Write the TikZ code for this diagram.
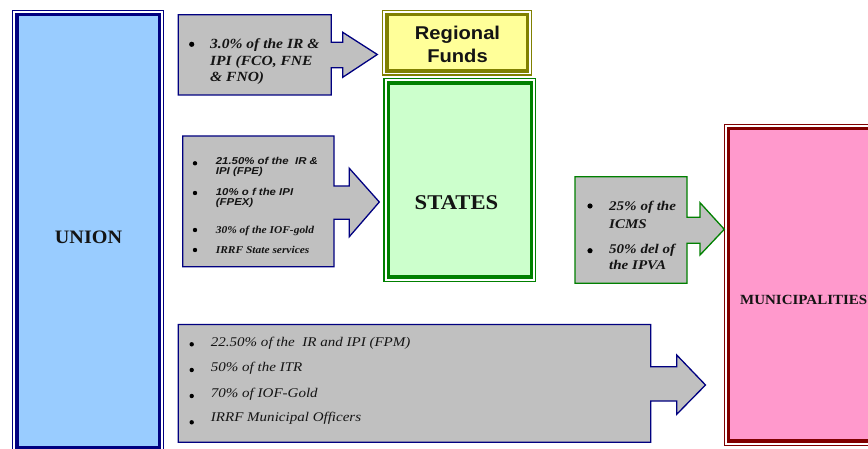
\documentclass[tikz,border=0pt]{standalone}
\usepackage{fontspec}
\usepackage{graphicx}
\setmainfont{Liberation Serif}
\newfontfamily\arialf{Liberation Sans}
\definecolor{navyc}{HTML}{000080}
\definecolor{ubluec}{HTML}{99CCFF}
\definecolor{olivec}{HTML}{808000}
\definecolor{yelc}{HTML}{FFFF99}
\definecolor{grnc}{HTML}{008000}
\definecolor{lgrnc}{HTML}{CCFFCC}
\definecolor{dredc}{HTML}{800000}
\definecolor{pinkc}{HTML}{FF99CC}
\definecolor{grayc}{HTML}{C0C0C0}
\newcommand\wide[2][1.12]{\scalebox{#1}[1]{#2}}
\begin{document}
\begin{tikzpicture}[x=1pt,y=-1pt,
  thinframe/.style={line width=1.2pt},
  thickframe/.style={line width=3.6pt},
  arrowshape/.style={fill=grayc, line width=1.3pt, line join=miter},
  txt/.style={anchor=base west, inner sep=0pt, text=black!92},
  title/.style={anchor=base, inner sep=0pt, text=black!92},
  bul/.style={circle, fill=black, inner sep=0pt, minimum size=5.2pt},
  sbul/.style={circle, fill=black, inner sep=0pt, minimum size=4.4pt}]
\useasboundingbox (0,0) rectangle (868,449);
\fill[white] (0,0) rectangle (868,449);

% UNION box
\draw[navyc, thinframe] (12.5,10.5) rectangle (163.5,455);
\draw[navyc, thickframe, fill=ubluec] (16.7,14.5) rectangle (159.3,447.5);
\node[title, font=\fontsize{19}{21}\selectfont\bfseries] (union) at (88.5,243.3) {\wide[1.06]{UNION}};

% Regional Funds box
\draw[olivec, thinframe] (382.7,10.7) rectangle (531.3,75);
\draw[olivec, thickframe, fill=yelc] (386.7,14.7) rectangle (527.3,71);
\node[title, font=\arialf\fontsize{18.5}{20}\selectfont\bfseries] (regional) at (457.5,39.3) {\wide[1.09]{Regional}};
\node[title, font=\arialf\fontsize{18.5}{20}\selectfont\bfseries] (funds) at (457.5,62.7) {\wide[1.09]{Funds}};

% STATES box
\draw[grnc, thinframe] (384,78.3) rectangle (535.7,281.7);
\draw[grnc, thickframe, fill=lgrnc] (388.5,82.8) rectangle (531.5,277.2);
\node[title, font=\fontsize{21}{23}\selectfont\bfseries] (states) at (456.5,210) {\wide[1.08]{STATES}};

% MUNICIPALITIES box
\draw[dredc, thinframe] (724.3,124.3) rectangle (890,445.5);
\draw[dredc, thickframe, fill=pinkc] (728.5,128.5) rectangle (885,441.2);
\node[txt, font=\fontsize{14}{15}\selectfont\bfseries] (muni) at (740,304.3) {\wide[1.07]{MUNICIPALITIES}};

% Arrow 1 (to Regional Funds)
\draw[navyc, arrowshape] (178.3,14.7) -- (331.3,14.7) -- (331.3,42.3) -- (342.7,42.3) -- (342.7,32.3)
  -- (377.3,54.5) -- (342.7,77.3) -- (342.7,67.7) -- (331.3,67.7) -- (331.3,95) -- (178.3,95) -- cycle;
\node[bul] (b1a) at (191.7,44.3) {};
\node[txt, font=\fontsize{14}{15}\selectfont\bfseries\itshape] (a1l1) at (210,49) {\wide[1.11]{3.0\% of the IR \&}};
\node[txt, font=\fontsize{14}{15}\selectfont\bfseries\itshape] (a1l2) at (210,66) {\wide[1.11]{IPI (FCO, FNE}};
\node[txt, font=\fontsize{14}{15}\selectfont\bfseries\itshape] (a1l3) at (210,81.7) {\wide[1.11]{\& FNO)}};

% Arrow 2 (to STATES)
\draw[navyc, arrowshape] (182.7,136) -- (334,136) -- (334,186) -- (349.3,186) -- (349.3,168.3)
  -- (379.3,202) -- (349.3,236.7) -- (349.3,219.3) -- (334,219.3) -- (334,266.7) -- (182.7,266.7) -- cycle;
\node[sbul] (b2a) at (195,163.3) {};
\node[txt, font=\arialf\fontsize{10}{11}\selectfont\bfseries\itshape] (a2l1) at (215.7,165) {\wide[1.14]{21.50\% of the\ \ IR \&}};
\node[txt, font=\arialf\fontsize{10}{11}\selectfont\bfseries\itshape] (a2l2) at (215.7,174.8) {\wide[1.14]{IPI (FPE)}};
\node[sbul] (b2b) at (195,193) {};
\node[txt, font=\arialf\fontsize{10}{11}\selectfont\bfseries\itshape] (a2l3) at (215.7,196) {\wide[1.14]{10\% o f the IPI}};
\node[txt, font=\arialf\fontsize{10}{11}\selectfont\bfseries\itshape] (a2l4) at (215.7,206) {\wide[1.14]{(FPEX)}};
\node[sbul] (b2c) at (195,230) {};
\node[txt, font=\fontsize{10.5}{12}\selectfont\bfseries\itshape] (a2l5) at (215.7,234) {\wide[1.09]{30\% of the IOF-gold}};
\node[sbul] (b2d) at (195,250) {};
\node[txt, font=\fontsize{10.5}{12}\selectfont\bfseries\itshape] (a2l6) at (215.7,254) {\wide[1.09]{IRRF State services}};

% Arrow 3 (STATES to MUNICIPALITIES)
\draw[grnc, arrowshape] (575,176.7) -- (687,176.7) -- (687,217.3) -- (700,217.3) -- (700,202.7)
  -- (724.3,229.3) -- (700,255) -- (700,243.3) -- (687,243.3) -- (687,283.3) -- (575,283.3) -- cycle;
\node[bul] (b3a) at (590,206) {};
\node[txt, font=\fontsize{13.3}{14}\selectfont\bfseries\itshape] (a3l1) at (609,210.7) {\wide[1.13]{25\% of the}};
\node[txt, font=\fontsize{13.3}{14}\selectfont\bfseries\itshape] (a3l2) at (609,228.3) {\wide[1.13]{ICMS}};
\node[bul] (b3b) at (590,250.7) {};
\node[txt, font=\fontsize{13.3}{14}\selectfont\bfseries\itshape] (a3l3) at (609,253.3) {\wide[1.13]{50\% del of}};
\node[txt, font=\fontsize{13.3}{14}\selectfont\bfseries\itshape] (a3l4) at (609,270) {\wide[1.13]{the IPVA}};

% Arrow 4 (to MUNICIPALITIES)
\draw[navyc, arrowshape] (178.3,324.5) -- (650.7,324.5) -- (650.7,366.7) -- (676.7,366.7) -- (676.7,355)
  -- (705.5,385) -- (676.7,414.3) -- (676.7,401) -- (650.7,401) -- (650.7,442.3) -- (178.3,442.3) -- cycle;
\node[sbul] (b4a) at (191.7,344.3) {};
\node[txt, font=\fontsize{13.3}{14}\selectfont\itshape] (a4l1) at (210.7,346.7) {\wide[1.13]{22.50\% of the\ \ IR and IPI (FPM)}};
\node[sbul] (b4b) at (191.7,370) {};
\node[txt, font=\fontsize{13.3}{14}\selectfont\itshape] (a4l2) at (210.7,371.7) {\wide[1.13]{50\% of the ITR}};
\node[sbul] (b4c) at (191.7,396) {};
\node[txt, font=\fontsize{13.3}{14}\selectfont\itshape] (a4l3) at (210.7,397.7) {\wide[1.13]{70\% of IOF-Gold}};
\node[sbul] (b4d) at (191.7,422.3) {};
\node[txt, font=\fontsize{13.3}{14}\selectfont\itshape] (a4l4) at (210.7,421.7) {\wide[1.13]{IRRF Municipal Officers}};
\end{tikzpicture}
\end{document}
